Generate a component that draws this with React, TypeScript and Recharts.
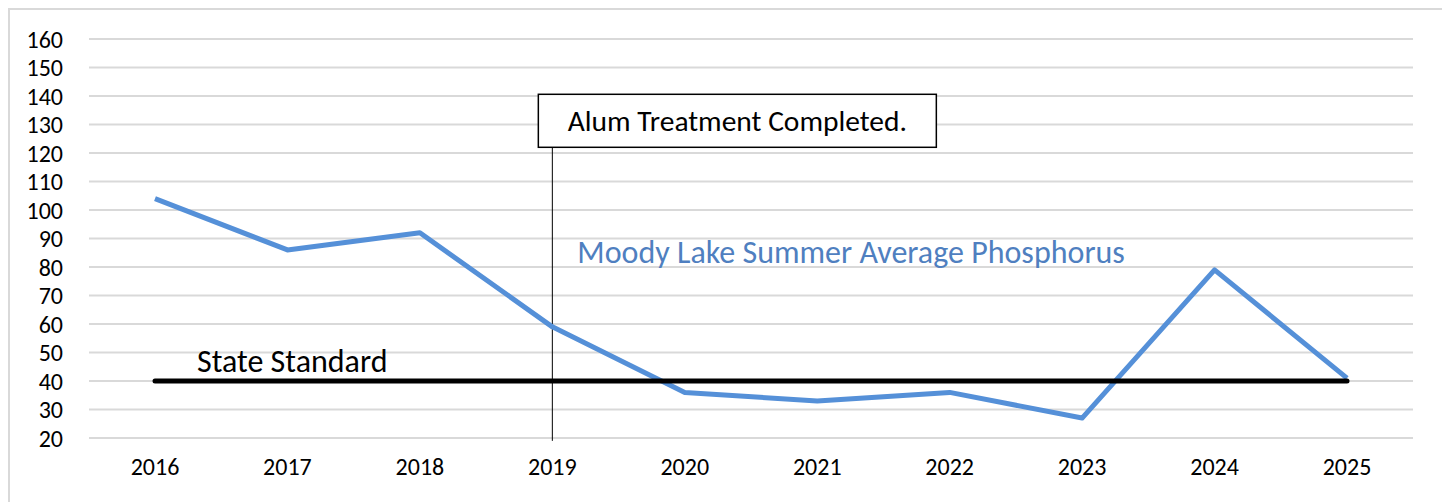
import React from 'react';
import { LineChart, Line, XAxis, YAxis, CartesianGrid, ReferenceLine, LabelList } from 'recharts';

const years = ['2016', '2017', '2018', '2019', '2020', '2021', '2022', '2023', '2024', '2025'];
const phosphorus = [104, 86, 92, 59, 36, 33, 36, 27, 79, 41];
const stateStandard = [40, 40, 40, 40, 40, 40, 40, 40, 40, 40];
const yTicks = [20, 30, 40, 50, 60, 70, 80, 90, 100, 110, 120, 130, 140, 150, 160];

// alum treatment marker: year plus the value range the callout line covers
const alumYear = '2019';
const alumBoxBottom = 122;
const alumLineBottom = 19;

const data = years.map((year, i) => ({
  year,
  phosphorus: phosphorus[i],
  standard: stateStandard[i],
}));

const FONT = 'Carlito, Calibri, Lato, sans-serif';

const StandardLabel = (props: any) => {
  const { x, y, index } = props;
  if (index !== 0) return null;
  return (
    <text x={x + 42} y={y - 9} fontSize={32} fontFamily={FONT} fill="#000">
      State Standard
    </text>
  );
};

const SeriesLabel = (props: any) => {
  const { x, y, index } = props;
  if (index !== 3) return null;
  return (
    <text x={x + 25} y={y - 64} fontSize={32} fontFamily={FONT} fill="#4f7fc0">
      Moody Lake Summer Average Phosphorus
    </text>
  );
};

const AlumCallout = (props: any) => {
  const { viewBox } = props;
  if (!viewBox) return null;
  const left = viewBox.x - 14;
  const top = viewBox.y - 53;
  return (
    <g>
      <rect x={left} y={top} width={398} height={53} fill="#fff" stroke="#000" strokeWidth={1.5} />
      <text x={left + 199} y={top + 37} textAnchor="middle" fontSize={29.5} fontFamily={FONT} fill="#000">
        Alum Treatment Completed.
      </text>
    </g>
  );
};

export default function App() {
  return (
    <div style={{ width: 1434, height: 496, border: '2px solid #d9d9d9', background: '#fff' }}>
      <LineChart width={1434} height={490} data={data} margin={{ top: 29, right: 31, left: 0, bottom: 12 }}>
        <CartesianGrid horizontal vertical={false} stroke="#d9d9d9" strokeWidth={2} />
        <XAxis
          dataKey="year"
          axisLine={false}
          tickLine={false}
          tickSize={0}
          tickMargin={20}
          height={50}
          padding={{ left: 66, right: 66 }}
          tick={{ fontSize: 24, fill: '#000', fontFamily: FONT }}
        />
        <YAxis
          domain={[20, 160]}
          ticks={yTicks}
          interval={0}
          width={79}
          axisLine={false}
          tickLine={false}
          tickSize={0}
          tickMargin={26}
          tick={{ fontSize: 24, fill: '#000', fontFamily: FONT }}
        />
        <ReferenceLine
          segment={[{ x: alumYear, y: alumBoxBottom }, { x: alumYear, y: alumLineBottom }]}
          stroke="#000"
          strokeWidth={1}
          ifOverflow="visible"
          label={<AlumCallout />}
        />
        <Line
          dataKey="phosphorus"
          stroke="#5590d8"
          strokeWidth={5}
          dot={false}
          strokeLinejoin="round"
          isAnimationActive={false}
        >
          <LabelList dataKey="phosphorus" content={<SeriesLabel />} />
        </Line>
        <Line
          dataKey="standard"
          stroke="#000"
          strokeWidth={5}
          strokeLinecap="round"
          dot={false}
          isAnimationActive={false}
        >
          <LabelList dataKey="standard" content={<StandardLabel />} />
        </Line>
      </LineChart>
    </div>
  );
}
